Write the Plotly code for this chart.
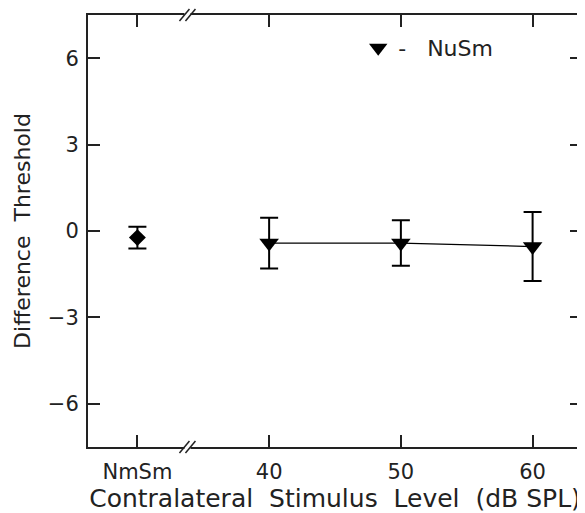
import plotly.graph_objects as go

# Data
ctrl_label = ["NmSm"]
ctrl_x = [30]
ctrl_y = [-0.23]
ctrl_err = [0.38]

levels = [40, 50, 60]
nusm_y = [-0.42, -0.42, -0.54]
nusm_err = [0.88, 0.79, 1.20]

tick_vals = [30, 40, 50, 60]
tick_text = ["NmSm", "40", "50", "60"]
y_ticks = [-6, -3, 0, 3, 6]
y_text = ["\u22126", "\u22123", "0", "3", "6"]

FONT = "DejaVu Sans"
AX = "#222222"
SP = "&nbsp; "

fig = go.Figure()

fig.add_trace(go.Scatter(
    x=ctrl_x, y=ctrl_y, mode="markers",
    marker=dict(symbol="diamond", size=13, color="black"),
    error_y=dict(type="data", array=ctrl_err, color="black", thickness=2, width=9),
    showlegend=False,
))

fig.add_trace(go.Scatter(
    x=levels, y=nusm_y, mode="lines+markers",
    line=dict(color="black", width=1.3),
    marker=dict(symbol="triangle-down", size=17, color="black"),
    error_y=dict(type="data", array=nusm_err, color="black", thickness=2, width=9),
    showlegend=False,
))

# legend entry
fig.add_trace(go.Scatter(
    x=[None], y=[None], mode="markers",
    marker=dict(symbol="triangle-down", size=16, color="black"),
    name="-&nbsp;&nbsp; NuSm", showlegend=True,
))

# axis break marks
for yp in (0, 1):
    fig.add_shape(type="line", xref="x", yref="paper", xsizemode="pixel", ysizemode="pixel",
                  xanchor=33.8, yanchor=yp, x0=-3, x1=3, y0=0, y1=0,
                  line=dict(color="white", width=4))
    for dx in (-3, 3):
        fig.add_shape(type="line", xref="x", yref="paper", xsizemode="pixel", ysizemode="pixel",
                      xanchor=33.8, yanchor=yp, x0=dx - 5, x1=dx + 5, y0=-6, y1=6,
                      line=dict(color=AX, width=1.5))

fig.update_layout(
    width=577, height=505,
    margin=dict(l=80, r=3, t=7, b=66),
    plot_bgcolor="white", paper_bgcolor="white",
    font=dict(family=FONT, color="#222222", size=21),
    legend=dict(x=0.547, y=0.924, xanchor="left", yanchor="middle",
                bgcolor="rgba(0,0,0,0)", font=dict(size=22, family=FONT)),
)

fig.update_xaxes(
    range=[26.25, 63.75], tickvals=tick_vals, ticktext=tick_text,
    ticks="inside", ticklen=12, tickwidth=2, tickcolor=AX,
    showline=True, linewidth=2, linecolor=AX, mirror="ticks",
    showgrid=False, zeroline=False, automargin=False,
    tickfont=dict(size=21), ticklabelstandoff=5,
    title=dict(text="Contralateral" + SP + "Stimulus" + SP + "Level" + SP + "(dB" + " " + "SPL)",
               font=dict(size=25), standoff=10),
)
fig.update_yaxes(
    range=[-7.5, 7.5], tickvals=y_ticks, ticktext=y_text,
    ticks="inside", ticklen=12, tickwidth=2, tickcolor=AX,
    showline=True, linewidth=2, linecolor=AX, mirror="ticks",
    showgrid=False, zeroline=False, automargin=False,
    tickfont=dict(size=21), ticklabelstandoff=3,
    title=dict(text="Difference" + SP + "Threshold", font=dict(size=22), standoff=11),
)

fig.write_html("out.html")
